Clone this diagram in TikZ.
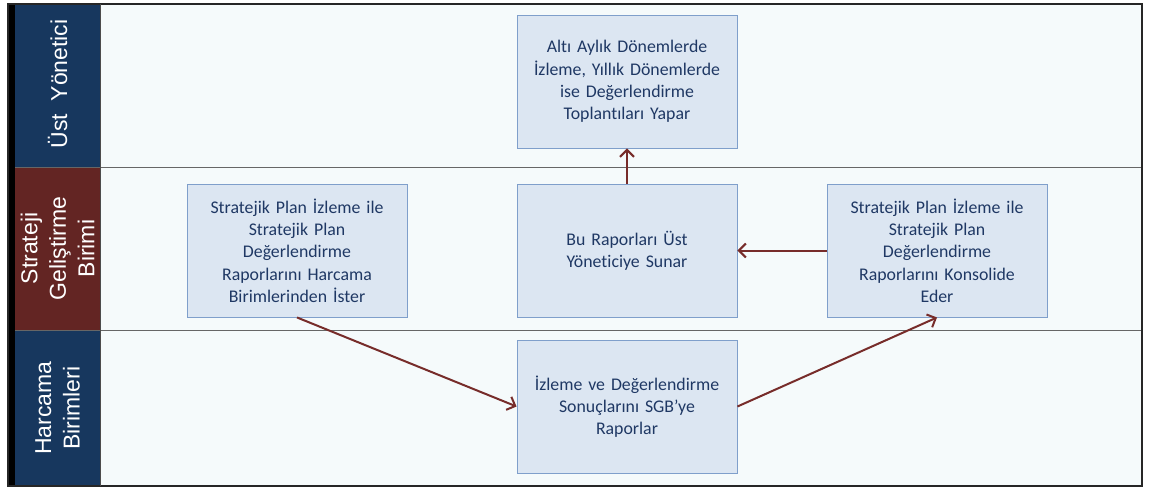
\documentclass[tikz,border=0pt]{standalone}
\usepackage{fontspec}
\setmainfont{Carlito}[RawFeature={-liga;-clig;-calt;-dlig}]
\newfontfamily\lanefont{Liberation Sans}
\usetikzlibrary{arrows.meta}
\definecolor{navy}{HTML}{17375E}
\definecolor{maroon}{HTML}{632523}
\definecolor{boxfill}{HTML}{DCE6F2}
\definecolor{boxline}{HTML}{7F9FCB}
\definecolor{boxtext}{HTML}{1F3864}
\definecolor{arrowc}{HTML}{772C2A}
\definecolor{lanebg}{HTML}{F5FAFB}
\newcommand\nolig{\kern0pt}
\tikzset{
  procbox/.style={draw=boxline, line width=0.9pt, fill=boxfill, text=boxtext,
    minimum width=220pt, minimum height=133pt, inner sep=0pt, align=center,
    text width=216pt, font=\fontsize{17.8}{22.3}\selectfont},
  lanelabel/.style={rotate=90, text=white, align=center,
    font=\lanefont\fontsize{23}{28.5}\selectfont},
  flow/.style={draw=arrowc, line width=2pt, -{Straight Barb[length=7pt,width=14pt,line width=2pt]}}
}
\begin{document}
\begin{tikzpicture}[x=1pt,y=-1pt]
\useasboundingbox (0,0) rectangle (1154,488);
\fill[white] (0,0) rectangle (1154,488);
% lanes background
\fill[lanebg] (100,4) rectangle (1142,486);
\fill[navy] (15,4) rectangle (100,167);
\fill[maroon] (15,167) rectangle (100,330);
\fill[navy] (15,330) rectangle (100,486);
\fill[black] (8,4) rectangle (15,486);
\draw[gray!80!black, line width=1pt] (15,167) -- (1142,167);
\draw[gray!80!black, line width=1pt] (15,330) -- (1142,330);
\draw[black!85, line width=1.3pt] (8,4) rectangle (1142,486);
\draw[black!70, line width=1pt] (100,4) -- (100,486);
% lane labels
\node[lanelabel] (l1) at (57.5,84) {Üst\ \ Yönetici};
\node[lanelabel] (l2) at (57.5,248.5) {Strateji\\Geliştirme\\Birimi};
\node[lanelabel] (l3) at (57.5,408) {Harcama\\Birimleri};
% boxes
\node[procbox] (top) at (627,81.5) {Altı Aylık Dönemlerde\\İzleme, Yıllık Dönemlerde\\ise Değerlendirme\\Toplant\nolig ıları Yapar};
\node[procbox] (left) at (297,250.5) {Stratejik Plan İzleme ile\\Stratejik Plan\\Değerlendirme\\Raporlarını Harcama\\Birimlerinden İster};
\node[procbox] (mid) at (627,250.5) {Bu Raporları Üst\\Yönet\nolig iciye Sunar};
\node[procbox] (right) at (937,250.5) {Stratejik Plan İzleme ile\\Stratejik Plan\\Değerlendirme\\Raporlarını Konsolide\\Eder};
\node[procbox] (bot) at (627,406.5) {İzleme ve Değerlendirme\\Sonuçlarını SGB’ye\\Raporlar};
% connectors
\draw[flow] (mid.north) -- (top.south);
\draw[flow] (right.west) -- (mid.east);
\draw[flow] (left.south) -- (bot.west);
\draw[flow] (bot.east) -- (right.south);
\end{tikzpicture}
\end{document}
